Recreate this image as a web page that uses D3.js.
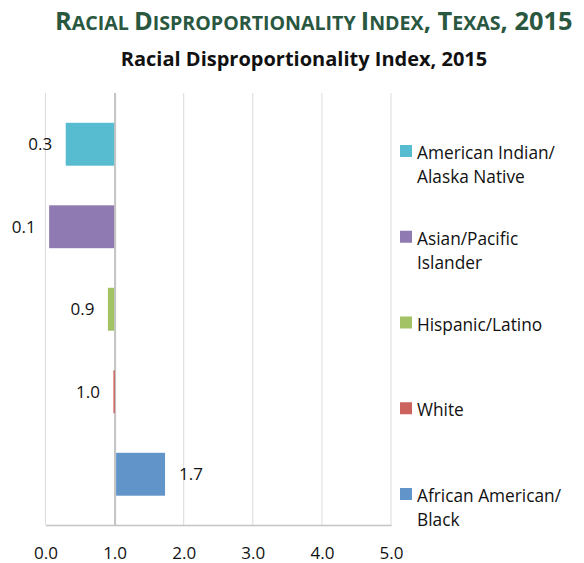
<!DOCTYPE html>
<html>
<head>
  <meta charset="UTF-8" />
  <script src="https://d3js.org/d3.v7.min.js"></script>
  <style>
    body { margin: 0; background: #fff; }
    text { font-family: "Open Sans", "Lato", sans-serif; }
  </style>
</head>
<body>
  <script>
    // data
    var groups = ["American Indian/Alaska Native", "Asian/Pacific Islander", "Hispanic/Latino", "White", "African American/Black"];
    var legendLines = [["American Indian/", "Alaska Native"], ["Asian/Pacific", "Islander"], ["Hispanic/Latino"], ["White"], ["African American/", "Black"]];
    var values = [0.3, 0.06, 0.91, 0.99, 1.73];
    var labels = ["0.3", "0.1", "0.9", "1.0", "1.7"];
    var colors = ["#58bcd0", "#8f7bb1", "#a3c264", "#cc625e", "#6195c9"];
    var xTicks = [0, 1, 2, 3, 4, 5];
    var baseline = 1.0;

    var width = 584, height = 563;

    var svg = d3.select("body").append("svg")
      .attr("width", width)
      .attr("height", height);

    // title in small caps, built from tspans
    var title = svg.append("text")
      .attr("x", 55)
      .attr("y", 30)
      .attr("fill", "#2a5740")
      .attr("font-weight", "bold");
    var titleParts = [["R", 1], ["ACIAL ", 0], ["D", 1], ["ISPROPORTIONALITY ", 0], ["I", 1], ["NDEX", 0], [", ", 1], ["T", 1], ["EXAS", 0], [", 2015", 1]];
    titleParts.forEach(function (p) {
      title.append("tspan")
        .attr("font-size", p[1] ? 25.4 : 19.6)
        .text(p[0]);
    });

    svg.append("text")
      .attr("x", 304)
      .attr("y", 66)
      .attr("text-anchor", "middle")
      .attr("font-size", 20)
      .attr("font-weight", "bold")
      .attr("fill", "#111")
      .text("Racial Disproportionality Index, 2015");

    // scales
    var x = d3.scaleLinear().domain([0, 5]).range([45.5, 391]);
    var y = d3.scaleBand().domain(groups).range([103, 515.5])
      .paddingInner(0.48).paddingOuter(0.24);

    var plotTop = 93, plotBottom = 525;

    // gridlines
    svg.append("g").selectAll("line")
      .data(xTicks)
      .join("line")
      .attr("x1", function (d) { return x(d); })
      .attr("x2", function (d) { return x(d); })
      .attr("y1", plotTop)
      .attr("y2", plotBottom)
      .attr("stroke", "#dcdcdc")
      .attr("stroke-width", 1);

    // baseline axis at 1.0
    svg.append("line")
      .attr("x1", x(baseline) + 0.5).attr("x2", x(baseline) + 0.5)
      .attr("y1", plotTop).attr("y2", plotBottom)
      .attr("stroke", "#c4c4c4")
      .attr("stroke-width", 2);

    // bars from the baseline (1.0); bars above 1 start just right of the axis line
    svg.append("g").selectAll("rect")
      .data(groups)
      .join("rect")
      .attr("x", function (d, i) {
        return values[i] < baseline ? x(values[i]) - 0.5 : x(baseline) + 1.5;
      })
      .attr("width", function (d, i) {
        var w = values[i] < baseline ? x(baseline) - x(values[i]) : x(values[i]) - x(baseline) - 1.5;
        return Math.max(1.5, w);
      })
      .attr("y", function (d) { return y(d); })
      .attr("height", y.bandwidth())
      .attr("fill", function (d, i) { return colors[i]; });

    // value labels
    svg.append("g").selectAll("text")
      .data(groups)
      .join("text")
      .attr("x", function (d, i) { return values[i] < baseline ? x(values[i]) - 14 : x(values[i]) + 14; })
      .attr("y", function (d) { return y(d) + y.bandwidth() / 2; })
      .attr("dy", "0.36em")
      .attr("text-anchor", function (d, i) { return values[i] < baseline ? "end" : "start"; })
      .attr("font-size", 17)
      .attr("fill", "#111")
      .text(function (d, i) { return labels[i]; });

    // x axis
    var xAxis = svg.append("g")
      .attr("transform", "translate(0," + plotBottom + ")")
      .call(d3.axisBottom(x).tickValues(xTicks).tickSize(0).tickFormat(d3.format(".1f")));
    xAxis.select(".domain").attr("stroke", "#c4c4c4").attr("stroke-width", 1.5);
    xAxis.selectAll("text")
      .attr("y", 34)
      .attr("dy", 0)
      .attr("font-size", 17)
      .attr("font-family", "Open Sans")
      .attr("fill", "#111");

    // legend
    var ly = d3.scalePoint().domain(groups).range([151, 494]);
    var legend = svg.append("g").selectAll("g")
      .data(groups)
      .join("g")
      .attr("transform", function (d) { return "translate(400," + ly(d) + ")"; });
    legend.append("rect")
      .attr("x", 0).attr("y", -6)
      .attr("width", 12).attr("height", 12)
      .attr("fill", function (d, i) { return colors[i]; });
    legend.append("text")
      .attr("x", 17)
      .attr("y", 8)
      .attr("font-size", 17.3)
      .attr("fill", "#111")
      .selectAll("tspan")
      .data(function (d, i) { return legendLines[i]; })
      .join("tspan")
      .attr("x", 17)
      .attr("dy", function (d, j) { return j ? 24 : 0; })
      .text(function (d) { return d; });
  </script>
</body>
</html>
